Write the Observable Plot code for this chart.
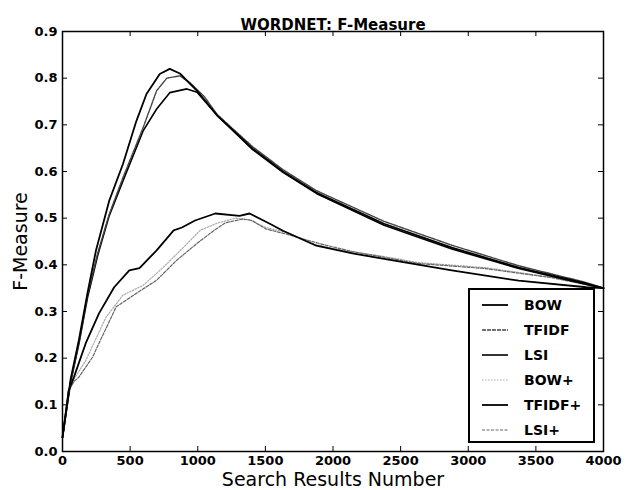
<!DOCTYPE html>
<html>
<head>
<meta charset="utf-8">
<script src="https://cdn.jsdelivr.net/npm/d3@7"></script>
<script src="https://cdn.jsdelivr.net/npm/@observablehq/plot@0.6"></script>
<style>
  html, body { margin: 0; padding: 0; background: #fff; }
  #wrap { position: relative; width: 633px; height: 490px; font-family: "DejaVu Sans", sans-serif; }
  #legend { position: absolute; left: 468px; top: 288px; width: 127px; height: 155px; border: 2px solid #000; background: #fff; box-sizing: border-box; }
  #legend .row { position: absolute; left: 0; height: 20px; display: flex; align-items: center; }
  #legend .row span { font-size: 14px; font-weight: bold; }
</style>
</head>
<body>
<div id="wrap"></div>
<script>
const title = "WORDNET: F-Measure";
const xLabel = "Search Results Number";
const yLabel = "F-Measure";
const xTicks = [0, 500, 1000, 1500, 2000, 2500, 3000, 3500, 4000];
const yTicks = [0.0, 0.1, 0.2, 0.3, 0.4, 0.5, 0.6, 0.7, 0.8, 0.9];
const seriesNames = ["BOW", "TFIDF", "LSI", "BOW+", "TFIDF+", "LSI+"];

const bowX = [0, 60, 122, 185, 247, 345, 447, 546, 621, 719, 793, 868, 995, 1144, 1406, 1630, 1877, 2378, 2879, 3373, 3874, 4000];
const bowY = [0.03, 0.155, 0.24, 0.34, 0.43, 0.537, 0.616, 0.708, 0.766, 0.809, 0.82, 0.81, 0.773, 0.72, 0.649, 0.60, 0.555, 0.488, 0.437, 0.394, 0.36, 0.35];

const tfidfX = [0, 60, 122, 185, 260, 345, 447, 596, 696, 771, 868, 943, 1050, 1144, 1406, 1630, 1877, 2378, 2879, 3373, 3874, 4000];
const tfidfY = [0.03, 0.15, 0.235, 0.335, 0.425, 0.508, 0.587, 0.694, 0.773, 0.80, 0.805, 0.79, 0.76, 0.722, 0.653, 0.604, 0.559, 0.493, 0.442, 0.398, 0.362, 0.35];

const lsiX = [0, 60, 122, 185, 260, 345, 447, 596, 696, 793, 920, 995, 1144, 1406, 1630, 1877, 2378, 2879, 3373, 3874, 4000];
const lsiY = [0.03, 0.148, 0.232, 0.33, 0.42, 0.505, 0.58, 0.687, 0.734, 0.769, 0.777, 0.77, 0.72, 0.647, 0.598, 0.553, 0.485, 0.434, 0.392, 0.358, 0.35];

const bowPX = [0, 45, 85, 172, 322, 447, 596, 746, 896, 1018, 1150, 1280, 1380, 1503, 1653, 1877, 2100, 2378, 2625, 3126, 3627, 4000];
const bowPY = [0.03, 0.13, 0.155, 0.195, 0.288, 0.335, 0.356, 0.395, 0.438, 0.474, 0.49, 0.50, 0.497, 0.48, 0.47, 0.443, 0.43, 0.418, 0.405, 0.394, 0.373, 0.35];

const tfidfPX = [0, 45, 85, 172, 270, 382, 494, 569, 696, 822, 883, 980, 1130, 1309, 1383, 1533, 1630, 1877, 2154, 2378, 2879, 3373, 3874, 4000];
const tfidfPY = [0.03, 0.13, 0.16, 0.232, 0.296, 0.352, 0.388, 0.393, 0.431, 0.474, 0.48, 0.495, 0.51, 0.505, 0.51, 0.488, 0.473, 0.441, 0.424, 0.413, 0.388, 0.366, 0.352, 0.35];

const lsiPX = [0, 45, 85, 120, 222, 270, 397, 546, 696, 845, 995, 1122, 1204, 1331, 1400, 1503, 1653, 1906, 2150, 2400, 2625, 3126, 3627, 4000];
const lsiPY = [0.03, 0.13, 0.15, 0.159, 0.202, 0.232, 0.31, 0.339, 0.367, 0.41, 0.446, 0.474, 0.49, 0.498, 0.495, 0.477, 0.466, 0.445, 0.428, 0.415, 0.403, 0.392, 0.372, 0.35];

const styles = {
  "BOW":    {stroke: "#000", strokeWidth: 1.8, dash: null},
  "TFIDF":  {stroke: "#444", strokeWidth: 1.4, dash: "4,1"},
  "LSI":    {stroke: "#000", strokeWidth: 1.6, dash: null},
  "BOW+":   {stroke: "#aaa", strokeWidth: 1.2, dash: "1.5,1.5"},
  "TFIDF+": {stroke: "#000", strokeWidth: 1.8, dash: null},
  "LSI+":   {stroke: "#666", strokeWidth: 1.2, dash: "3,1.5"}
};

function toRows(name, xs, ys) { return xs.map((x, i) => ({series: name, x, y: ys[i]})); }
const seriesData = [
  toRows("BOW+", bowPX, bowPY),
  toRows("LSI+", lsiPX, lsiPY),
  toRows("TFIDF+", tfidfPX, tfidfPY),
  toRows("LSI", lsiX, lsiY),
  toRows("TFIDF", tfidfX, tfidfY),
  toRows("BOW", bowX, bowY)
];

const W = 633, H = 490, mL = 62, mR = 30, mT = 31, mB = 39;
const plotH = H - mT - mB;
const plotW = W - mL - mR;

const lineMarks = seriesData.map(rows => {
  const s = styles[rows[0].series];
  return Plot.line(rows, {x: "x", y: "y", stroke: s.stroke, strokeWidth: s.strokeWidth, strokeDasharray: s.dash, strokeLinejoin: "round"});
});

const chart = Plot.plot({
  width: W, height: H,
  marginLeft: mL, marginRight: mR, marginTop: mT, marginBottom: mB,
  style: {fontFamily: "DejaVu Sans", fontSize: "13px", fontWeight: "bold", background: "#fff", color: "#000"},
  x: {domain: [0, 4000]},
  y: {domain: [0, 0.9]},
  marks: [
    ...lineMarks,
    Plot.tickX(xTicks, {x: d => d, insetTop: plotH - 5, stroke: "#000", strokeWidth: 1}),
    Plot.tickX(xTicks, {x: d => d, insetBottom: plotH - 5, stroke: "#000", strokeWidth: 1}),
    Plot.tickY(yTicks, {y: d => d, insetRight: plotW - 5, stroke: "#000", strokeWidth: 1}),
    Plot.tickY(yTicks, {y: d => d, insetLeft: plotW - 5, stroke: "#000", strokeWidth: 1}),
    Plot.frame({stroke: "#000", strokeWidth: 1.5}),
    Plot.axisX(xTicks, {tickSize: 0, tickPadding: 4, tickFormat: d => String(d), fontSize: 13, fontWeight: "bold", label: xLabel, labelAnchor: "center", labelArrow: "none", labelOffset: 34}),
    Plot.axisY(yTicks, {tickSize: 0, tickPadding: 5, tickFormat: d3.format(".1f"), fontSize: 13, fontWeight: "bold", label: yLabel, labelAnchor: "center", labelArrow: "none", labelOffset: 49}),
    Plot.text([title], {frameAnchor: "top", dy: -12, fontSize: 15, fontWeight: "bold", text: d => d})
  ]
});

d3.select(chart).selectAll("g[aria-label='x-axis label'] text, g[aria-label='y-axis label'] text")
  .style("font-size", "19px").style("font-weight", "normal");

const wrap = document.getElementById("wrap");
wrap.appendChild(chart);

const legend = document.createElement("div");
legend.id = "legend";
seriesNames.forEach((name, i) => {
  const s = styles[name];
  const row = document.createElement("div");
  row.className = "row";
  row.style.top = (5 + i * 25) + "px";
  row.innerHTML = `<svg width="40" height="20" style="margin-left:12px"><line x1="0" x2="26" y1="10" y2="10" stroke="${s.stroke}" stroke-width="${s.strokeWidth}" ${s.dash ? `stroke-dasharray="${s.dash}"` : ""}/></svg><span style="margin-left:2px">${name}</span>`;
  legend.appendChild(row);
});
wrap.appendChild(legend);
</script>
</body>
</html>
